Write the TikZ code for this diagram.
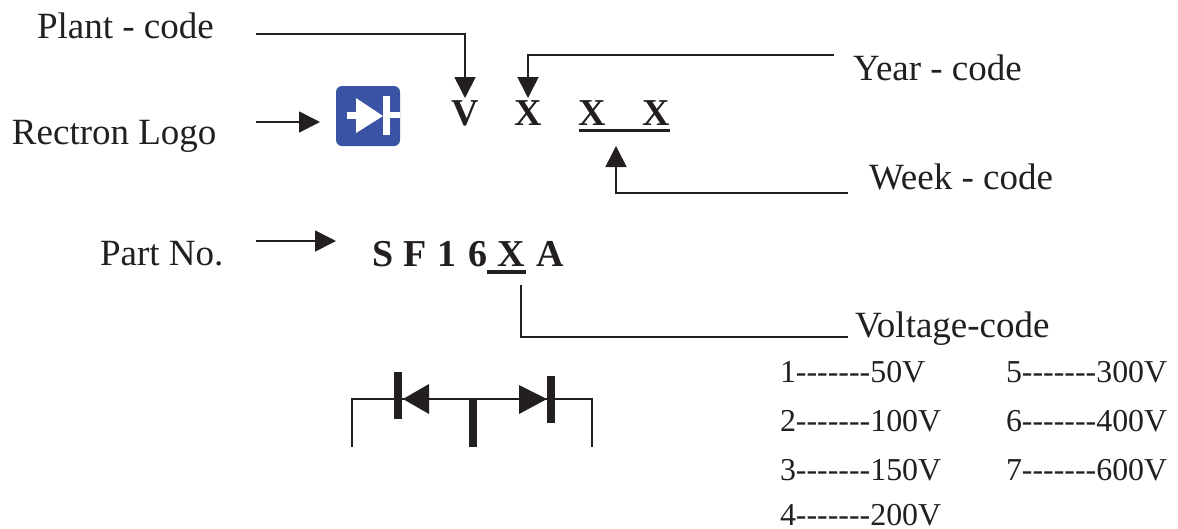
\documentclass[tikz,border=0pt]{standalone}
\usepackage{fontspec}
\setmainfont{Liberation Serif}
\newfontfamily\plainserif{Liberation Serif}
\usetikzlibrary{arrows.meta}
\definecolor{logoblue}{HTML}{3B53A4}
\definecolor{ink}{HTML}{231F20}
\tikzset{
  lab/.style={anchor=base west,inner sep=0pt,outer sep=0pt,text=ink,font=\fontsize{37}{37}\selectfont},
  small/.style={anchor=base west,inner sep=0pt,outer sep=0pt,text=ink,font=\plainserif\fontsize{31.9}{32}\selectfont},
  code/.style={anchor=base,inner sep=0pt,outer sep=0pt,text=ink,font=\bfseries\fontsize{38}{38}\selectfont},
  wire/.style={draw=ink,line width=1.7pt},
  arrowwire/.style={wire,-{Triangle[length=21pt,width=21pt]}},
  uline/.style={draw=ink,line width=3.5pt},
  fat/.style={draw=ink,line width=8pt},
  blk/.style={fill=ink,draw=none}
}
\begin{document}
\begin{tikzpicture}[x=1pt,y=-1pt]
\useasboundingbox (0,0) rectangle (1178,528);
% labels
\node[lab] (plant) at (37,38) {Plant - code};
\node[lab] (year) at (853,80) {Year - code};
\node[lab] (rectron) at (12,144) {Rectron Logo};
\node[lab] (week) at (869,189) {Week - code};
\node[lab] (part) at (100,265) {Part No.};
\node[lab] (volt) at (855,337) {Voltage-code};
\node[small] (v1) at (780,382) {1-------50V};
\node[small] (v2) at (780,431) {2-------100V};
\node[small] (v3) at (780,480) {3-------150V};
\node[small] (v4) at (780,525) {4-------200V};
\node[small] (v5) at (1006,382) {5-------300V};
\node[small] (v6) at (1006,431) {6-------400V};
\node[small] (v7) at (1006,480) {7-------600V};
% date code
\node[code] (cv) at (465,125) {V};
\node[code] (cx1) at (528,125) {X};
\node[code] (cx2) at (592,125) {X};
\node[code] (cx3) at (656,125) {X};
% part number
\node[code] (s) at (383,266) {S};
\node[code] (f) at (415,266) {F};
\node[code] (one) at (447,266) {1};
\node[code] (six) at (478,266) {6};
\node[code] (xx) at (511,266) {X};
\node[code] (a) at (550,266) {A};
% coordinates
\coordinate (plantS) at (256,34);
\coordinate (plantC) at (465,34);
\coordinate (plantE) at (465,98);
\coordinate (yearS) at (834,55);
\coordinate (yearC) at (528,55);
\coordinate (yearE) at (528,98);
\coordinate (weekS) at (848,193);
\coordinate (weekC) at (616,193);
\coordinate (weekE) at (616,146);
\coordinate (logoS) at (256,122);
\coordinate (logoE) at (320,122);
\coordinate (partS) at (256,241);
\coordinate (partE) at (336,241);
\coordinate (voltS) at (521,285);
\coordinate (voltC) at (521,337);
\coordinate (voltE) at (848,337);
% connectors
\draw[arrowwire] (plantS) -- (plantC) -- (plantE);
\draw[arrowwire] (yearS) -- (yearC) -- (yearE);
\draw[arrowwire] (weekS) -- (weekC) -- (weekE);
\draw[arrowwire] (logoS) -- (logoE);
\draw[arrowwire] (partS) -- (partE);
\draw[wire] (voltS) -- (voltC) -- (voltE);
% underlines
\draw[uline] (579,130.5) -- (670,130.5);
\draw[uline] (487,272) -- (526,272);
% logo
\fill[logoblue,rounded corners=6pt] (336,86) rectangle (400,146);
\fill[white] (356,98) -- (383,116) -- (356,133) -- cycle;
\fill[white] (383,96) rectangle (390,135);
\fill[white] (347,112) rectangle (357,119);
\fill[white] (390,112) rectangle (400,118);
% schematic
\draw[wire,line width=1.5pt] (352,447) -- (352,399) -- (592,399) -- (592,447);
\fill[blk] (403,399) -- (429,384) -- (429,414) -- cycle;
\fill[blk] (547,399) -- (519,385) -- (519,414) -- cycle;
\draw[fat] (398,372) -- (398,419);
\draw[fat] (551,376) -- (551,423);
\draw[fat] (472.5,399) -- (472.5,447);
\end{tikzpicture}
\end{document}
